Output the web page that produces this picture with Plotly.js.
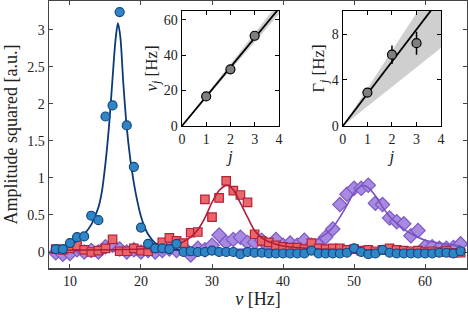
<!DOCTYPE html>
<html><head><meta charset="utf-8">
<script src="https://cdn.plot.ly/plotly-3.0.1.min.js"></script>
<style>html,body{margin:0;padding:0;background:#fff}</style>
</head><body><div id="chart" style="width:468px;height:313px"></div>
<script>
// ---- main panel data (frequency in Hz) ----
const freq = [8,9,10,11,12,13,14,15,16,17,18,19,20,21,22,23,24,25,26,27,28,29,30,31,32,33,34,35,36,37,38,39,40,41,42,43,44,45,46,47,48,49,50,51,52,53,54,55,56,57,58,59,60,61,62,63,64,65];
const ampBlue = [0.04,0.04,0.12,0.20,0.21,0.49,0.43,1.83,1.98,3.24,1.71,1.15,0.33,0.11,0.05,0.05,0.04,0.11,0.00,0.01,0.00,0.00,0.02,0.00,0.00,0.00,-0.03,0.00,-0.01,-0.01,-0.02,-0.02,-0.02,-0.02,-0.02,-0.02,0.02,-0.02,-0.02,-0.02,-0.02,-0.01,0.05,0.00,-0.03,-0.02,0.03,-0.01,-0.02,-0.02,-0.02,-0.02,-0.02,-0.02,-0.01,-0.01,-0.02,0.01];
const ampRed = [0.04,0.03,0.05,0.09,0.03,0.00,0.02,0.05,0.17,0.01,0.01,0.05,0.02,0.01,0.06,0.13,0.19,0.15,0.12,0.26,0.27,0.71,0.47,0.73,0.96,0.83,0.77,0.67,0.24,0.15,0.13,0.09,0.07,0.06,0.06,0.04,0.12,0.05,0.04,0.05,0.05,0.03,0.04,0.02,0.03,0.01,0.03,0.05,0.03,0.02,0.01,0.02,0.00,0.01,0.00,0.02,-0.01,-0.01];
const ampPurple = [-0.01,-0.03,-0.02,0.03,0.00,0.02,0.00,0.07,0.09,0.04,0.00,0.03,0.00,0.02,0.00,0.02,0.04,0.02,0.06,-0.04,0.05,0.03,0.09,0.23,0.13,0.17,0.20,0.13,0.13,0.16,0.08,0.17,0.09,0.12,0.09,0.16,0.09,0.09,0.20,0.31,0.64,0.78,0.86,0.86,0.90,0.66,0.64,0.46,0.41,0.38,0.22,0.29,0.07,0.07,0.05,0.05,0.06,0.11];

// fitted curves
const fitBlueX = [7.5,9,10,11,12,13,14,14.5,15,15.5,16,16.4,16.75,17.1,17.5,18,18.5,19,19.5,20,20.5,21,22,23,25,30,40,50,65];
const fitBlueY = [0.04,0.06,0.09,0.15,0.24,0.37,0.60,0.82,1.20,1.70,2.35,2.85,3.09,2.90,2.30,1.68,1.25,0.93,0.68,0.48,0.34,0.24,0.12,0.06,0.03,0.02,0.02,0.02,0.02];
const fitRedX = [7.5,15,20,22,23,24,25,26,27,28,29,30,31,32.1,33,34,35,36,37,38,40,42,45,50,65];
const fitRedY = [0.02,0.03,0.04,0.05,0.055,0.06,0.09,0.14,0.20,0.30,0.46,0.67,0.83,0.90,0.84,0.66,0.47,0.29,0.19,0.14,0.08,0.06,0.04,0.03,0.02];
const fitPurpleX = [7.5,20,30,35,38,40,42,43,44,45,46,47,48,49,50,51.2,52,53,54,55,56,57,58,59,60,62,65];
const fitPurpleY = [0.01,0.02,0.03,0.04,0.04,0.05,0.07,0.09,0.13,0.18,0.24,0.33,0.47,0.63,0.80,0.90,0.87,0.76,0.61,0.48,0.39,0.31,0.25,0.20,0.16,0.12,0.08];

// ---- inset data ----
const modeJ = [1,2,3];
const nuJ = [16.7,32.0,51.0];
const gammaJ = [2.9,6.2,7.2];
const gammaErr = [0.3,0.8,1.0];
const lineJ = [0,4];
const nuFit = [0,66.4];
const nuBandLow = [0,63.2];
const nuBandHigh = [0,70.0];
const gammaFit = [0,11.2];
const gammaBandLow = [0,6.8];
const gammaBandHigh = [0,13.1];

const F = 'Liberation Serif, Times New Roman, serif';
const C = {
  blueFill:'#2f86c6', blueEdge:'#15457e', blueLine:'#0b3a78',
  redFill:'#e8686a', redEdge:'#b8203a', redLine:'#b01c36',
  purFill:'#a88be0', purEdge:'#7d58c6', purLine:'#7a52c2'
};

const traces = [
  {x:freq, y:ampPurple, mode:'markers', type:'scatter', xaxis:'x', yaxis:'y',
   marker:{symbol:'diamond', size:11, color:C.purFill, line:{color:C.purEdge, width:1.2}}},
  {x:fitPurpleX, y:fitPurpleY, mode:'lines', line:{color:C.purLine, width:1.6, shape:'spline', smoothing:0.8}},
  {x:freq, y:ampRed, mode:'markers', type:'scatter',
   marker:{symbol:'square', size:8.5, color:C.redFill, line:{color:C.redEdge, width:1.2}}},
  {x:fitRedX, y:fitRedY, mode:'lines', line:{color:C.redLine, width:1.6, shape:'spline', smoothing:0.8}},
  {x:fitBlueX, y:fitBlueY, mode:'lines', line:{color:C.blueLine, width:1.8, shape:'spline', smoothing:0.8}},
  {x:freq, y:ampBlue, mode:'markers', type:'scatter',
   marker:{symbol:'circle', size:9, color:C.blueFill, line:{color:C.blueEdge, width:1.2}}},
  // inset 1 : nu_j
  {x:lineJ, y:nuBandLow, xaxis:'x2', yaxis:'y2', mode:'lines', line:{width:0, color:'rgba(0,0,0,0)'}},
  {x:lineJ, y:nuBandHigh, xaxis:'x2', yaxis:'y2', mode:'lines', fill:'tonexty', fillcolor:'#cfcfcf', line:{width:0, color:'rgba(0,0,0,0)'}},
  {x:lineJ, y:nuFit, xaxis:'x2', yaxis:'y2', mode:'lines', line:{color:'#000', width:1.8}},
  {x:modeJ, y:nuJ, xaxis:'x2', yaxis:'y2', mode:'markers', marker:{size:9, color:'#7f7f7f', line:{color:'#000', width:1.2}}},
  // inset 2 : Gamma_j
  {x:lineJ, y:gammaBandLow, xaxis:'x3', yaxis:'y3', mode:'lines', line:{width:0, color:'rgba(0,0,0,0)'}},
  {x:lineJ, y:gammaBandHigh, xaxis:'x3', yaxis:'y3', mode:'lines', fill:'tonexty', fillcolor:'#cfcfcf', line:{width:0, color:'rgba(0,0,0,0)'}},
  {x:lineJ, y:gammaFit, xaxis:'x3', yaxis:'y3', mode:'lines', line:{color:'#000', width:1.8}},
  {x:modeJ, y:gammaJ, xaxis:'x3', yaxis:'y3', mode:'markers',
   error_y:{type:'data', array:gammaErr, visible:true, color:'#000', thickness:1.5, width:0},
   marker:{size:9, color:'#7f7f7f', line:{color:'#000', width:1.2}}}
];

const mainAxis = {showline:true, linecolor:'#444', linewidth:1.5, mirror:'ticks', ticks:'inside', ticklen:4, tickcolor:'#444',
  showgrid:false, zeroline:false, tickfont:{family:F, size:14, color:'#222'}};
const insetAxis = {showline:true, linecolor:'#000', linewidth:1.3, mirror:'ticks', ticks:'inside', ticklen:4, tickcolor:'#000',
  showgrid:false, zeroline:false, tickfont:{family:F, size:14, color:'#222'}};

const layout = {
  width:468, height:313, margin:{l:49, r:1, t:1, b:45},
  paper_bgcolor:'#fff', plot_bgcolor:'#fff', showlegend:false,
  font:{family:F, color:'#222'},
  xaxis:Object.assign({}, mainAxis, {range:[7.05,65.9], tickvals:[10,20,30,40,50,60], domain:[0,1],
    title:{text:'<i>ν</i> [Hz]', font:{family:F, size:18}, standoff:2}}),
  yaxis:Object.assign({}, mainAxis, {range:[-0.216,3.39], tickvals:[0,0.5,1,1.5,2,2.5,3], domain:[0,1],
    title:{text:'Amplitude squared [a.u.]', font:{family:F, size:18}, standoff:5}}),
  xaxis2:Object.assign({}, insetAxis, {anchor:'y2', domain:[0.318,0.550], range:[0,4], tickvals:[0,1,2,3,4],
    title:{text:'<i>j</i>', font:{family:F, size:17}, standoff:0}}),
  yaxis2:Object.assign({}, insetAxis, {anchor:'x2', domain:[0.532,0.9625], range:[0,65], tickvals:[0,20,40,60],
    title:{text:'<i>ν<sub>j</sub></i> [Hz]', font:{family:F, size:17}, standoff:2}}),
  xaxis3:Object.assign({}, insetAxis, {anchor:'y3', domain:[0.703,0.938], range:[0,4], tickvals:[0,1,2,3,4],
    title:{text:'<i>j</i>', font:{family:F, size:17}, standoff:0}}),
  yaxis3:Object.assign({}, insetAxis, {anchor:'x3', domain:[0.532,0.9625], range:[0,10], tickvals:[0,4,8],
    title:{text:'Γ<sub><i>j</i></sub> [Hz]', font:{family:F, size:17}, standoff:2}})
};

Plotly.newPlot('chart', traces, layout, {staticPlot:true, displayModeBar:false});
</script>
</body></html>
